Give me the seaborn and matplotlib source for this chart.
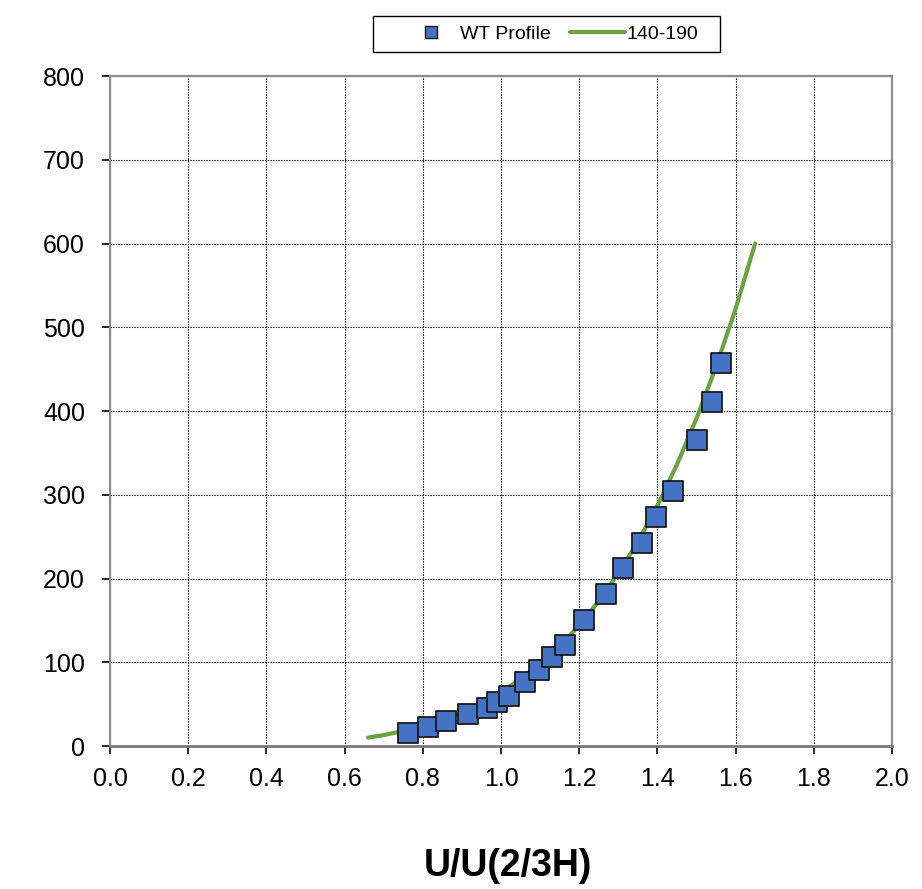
import matplotlib
matplotlib.use("Agg")
import matplotlib.pyplot as plt
import seaborn as sns
import pandas as pd
from matplotlib.lines import Line2D
from matplotlib.patches import Rectangle
from matplotlib.ticker import FormatStrFormatter, MultipleLocator

# Wind tunnel profile points (U/U(2/3H), height)
wt_x = [0.763, 0.813, 0.860, 0.916, 0.963, 0.991, 1.020, 1.061, 1.096, 1.131,
        1.163, 1.212, 1.268, 1.313, 1.360, 1.397, 1.440, 1.502, 1.539, 1.562]
wt_y = [15, 23, 30, 38, 45, 53, 60, 76, 91, 106,
        121, 151, 181, 213, 242, 274, 304, 365, 411, 457]

# 140-190 curve
fit_x = [0.66, 0.70, 0.75, 0.80, 0.85, 0.90, 0.95, 1.00, 1.05, 1.10, 1.15, 1.20,
         1.25, 1.30, 1.35, 1.40, 1.45, 1.50, 1.55, 1.60, 1.65]
fit_y = [10, 13, 18, 24, 31, 40, 51, 64, 80, 98, 119, 144,
         173, 206, 244, 287, 336, 391, 453, 522, 600]

series_labels = ["WT Profile", "140-190"]
x_label = "U/U(2/3H)"

sns.set_theme(style="white")
plt.rcParams['font.family'] = ['Liberation Sans', 'DejaVu Sans']
plt.rcParams['text.color'] = 'black'
plt.rcParams['axes.labelcolor'] = 'black'

fig = plt.figure(figsize=(9.22, 8.89), dpi=100)
ax = fig.add_axes([110/922, 1-746/889, (892-110)/922, (746-76)/889])

df_wt = pd.DataFrame({"x": wt_x, "y": wt_y})
df_fit = pd.DataFrame({"x": fit_x, "y": fit_y})

sns.lineplot(data=df_fit, x="x", y="y", ax=ax, color="#6AA442", linewidth=3.0,
             sort=False, zorder=3)
sns.scatterplot(data=df_wt, x="x", y="y", ax=ax, marker="s", s=195,
                color="#4472C4", edgecolor="#1a1a1a", linewidth=1.3, zorder=4)

ax.set_xlim(0, 2.0)
ax.set_ylim(0, 800)
ax.xaxis.set_major_locator(MultipleLocator(0.2))
ax.yaxis.set_major_locator(MultipleLocator(100))
ax.xaxis.set_major_formatter(FormatStrFormatter("%.1f"))
ax.grid(True, color="black", linestyle=(0, (1.2, 1.2)), linewidth=0.8)
ax.set_axisbelow(True)

for side in ["top", "right", "left"]:
    ax.spines[side].set_color("#8c8c8c")
    ax.spines[side].set_linewidth(1.6)
ax.spines["bottom"].set_color("#7a7a7a")
ax.spines["bottom"].set_linewidth(2.0)

ax.tick_params(axis="both", which="major", labelsize=18, colors="black",
               length=6, width=1.2, direction="out")
ax.tick_params(axis="x", pad=9, bottom=True)
ax.tick_params(axis="y", pad=12, left=True)
for t in ax.get_xticklines() + ax.get_yticklines():
    t.set_color("#333333")

ax.set_xlabel(x_label, fontsize=27, fontweight="bold", color="black")
ax.xaxis.set_label_coords((508 - 110) / (892 - 110), -(866 - 746) / (746 - 76))
ax.xaxis.label.set_verticalalignment("center")
ax.set_ylabel("")

handles = [
    Line2D([], [], linestyle="none", marker="s", markersize=9,
           markerfacecolor="#4472C4", markeredgecolor="#1a1a1a", markeredgewidth=1.0),
    Line2D([], [], color="#6AA442", linewidth=3.0),
]
leg = fig.legend(handles, series_labels, loc="center", ncol=2,
                 bbox_to_anchor=(551/922, 1-34/889), fontsize=14,
                 frameon=False, handlelength=2.8, columnspacing=1.0,
                 handletextpad=0.1, borderpad=0.0)
for txt in leg.get_texts():
    txt.set_color("black")

fig.patches.append(Rectangle((373/922, 1-52/889), (720-373)/922, 36/889,
                             transform=fig.transFigure, fill=False,
                             edgecolor="black", linewidth=1.0, zorder=1))

fig.savefig("out.png", dpi=100)
